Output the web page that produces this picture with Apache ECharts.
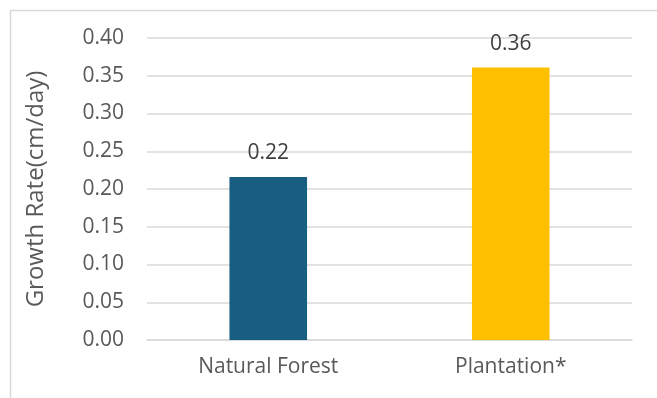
<!DOCTYPE html>
<html>
<head>
<meta charset="utf-8">
<script src="https://cdn.jsdelivr.net/npm/echarts@6/dist/echarts.min.js"></script>
<style>
  html, body { margin: 0; padding: 0; background: #fff; }
  #chart { width: 657px; height: 398px; }
</style>
</head>
<body>
<div id="chart"></div>
<script>
// Growth rate by stand type
const categories = ['Natural Forest', 'Plantation*'];
const growthRates = [0.216, 0.361];
const barColors = ['#175E82', '#FFC000'];
const yTicks = { min: 0, max: 0.4, interval: 0.05 };

const textColor = '#595959';
const fontFamily = '"Open Sans", "Noto Sans", sans-serif';

const chart = echarts.init(document.getElementById('chart'), null, { renderer: 'canvas' });

chart.setOption({
  backgroundColor: '#ffffff',
  animation: false,
  graphic: [{
    type: 'rect',
    left: 8, top: 8,
    shape: { width: 700, height: 450 },
    style: { fill: 'none', stroke: '#d9d9d9', lineWidth: 1.5 },
    silent: true
  }],
  grid: { left: 147, right: 25, top: 38, bottom: 58 },
  xAxis: {
    type: 'category',
    data: categories,
    axisLine: { show: true, lineStyle: { color: '#d9d9d9', width: 1.5 } },
    axisTick: { show: false },
    axisLabel: { color: textColor, fontSize: 21, fontFamily, margin: 17 }
  },
  yAxis: {
    type: 'value',
    min: yTicks.min, max: yTicks.max, interval: yTicks.interval,
    name: 'Growth Rate(cm/day)',
    nameLocation: 'middle',
    nameGap: 99,
    nameTextStyle: { color: textColor, fontSize: 24, fontFamily },
    axisLine: { show: false },
    axisTick: { show: false },
    splitLine: { lineStyle: { color: '#d9d9d9', width: 1.5 } },
    axisLabel: {
      color: textColor, fontSize: 21, fontFamily, margin: 23,
      formatter: v => v.toFixed(2)
    }
  },
  series: [{
    type: 'bar',
    barWidth: '32%',
    data: growthRates.map((v, i) => ({ value: v, itemStyle: { color: barColors[i] } })),
    label: {
      show: true,
      position: 'top',
      distance: 13,
      color: '#404040',
      fontSize: 21,
      fontFamily,
      formatter: p => p.value.toFixed(2)
    }
  }]
});
</script>
</body>
</html>
